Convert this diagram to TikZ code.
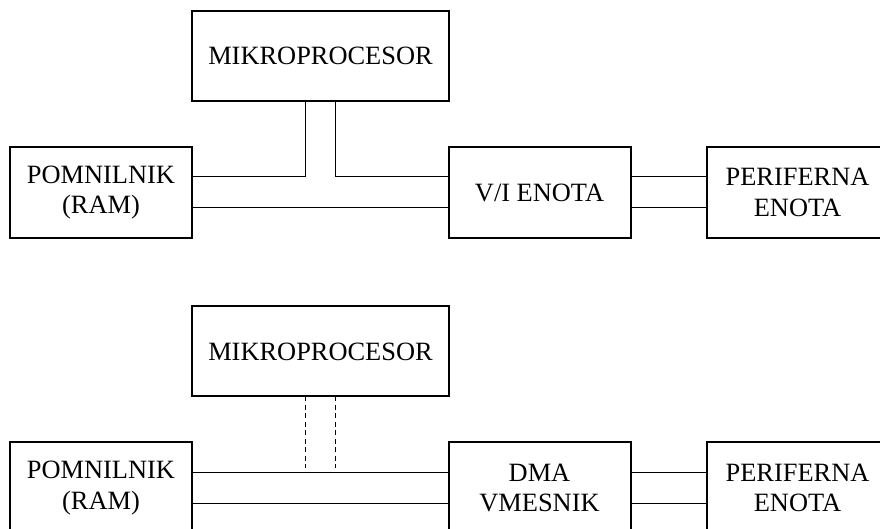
\documentclass[tikz,border=0pt]{standalone}
\usepackage{fontspec}
\setmainfont{Liberation Serif}
\usetikzlibrary{positioning}

\begin{document}
\begin{tikzpicture}[
    x=0.5pt, y=-0.5pt,
    every node/.style={font=\fontsize{13.2}{15.3}\selectfont, align=center},
    unit/.style={rectangle, minimum width=91pt, minimum height=45.5pt,
                 inner sep=0pt, outer sep=0pt, draw=black, line width=1pt},
    cpu/.style={unit, minimum width=128.5pt, minimum height=45pt},
    bus/.style={line width=0.5pt},
    ctrl/.style={bus, dash pattern=on 2.5pt off 1.75pt}
]
\useasboundingbox (0,0) rectangle (880,529);
\fill [white] (0,0) rectangle (880,529);
\clip (0,0) rectangle (880,529);

% programmirani vhod/izhod
\node (mp1) [cpu] at (320.5,56) {MIKROPROCESOR};
\node (ram1) [unit] at (101,192.5) {POMNILNIK\\(RAM)};
\node (vi1) [unit] at (539.5,192.5) {V/I ENOTA};
\node (per1) [unit, right=38pt of vi1] {PERIFERNA\\ENOTA};

\draw [bus] ([xshift=-7.5pt]mp1.south) |- ([yshift=7.75pt]ram1.east);
\draw [bus] ([xshift=7.5pt]mp1.south) |- ([yshift=7.75pt]vi1.west);
\draw [bus] ([yshift=-7.75pt]ram1.east) -- ([yshift=-7.75pt]vi1.west);
\draw [bus] ([yshift=7.75pt]vi1.east) -- ([yshift=7.75pt]per1.west);
\draw [bus] ([yshift=-7.75pt]vi1.east) -- ([yshift=-7.75pt]per1.west);

% neposredni dostop do pomnilnika
\node (mp2) [cpu] at (320.5,351.5) {MIKROPROCESOR};
\node (ram2) [unit] at (101,488) {POMNILNIK\\(RAM)};
\node (dma2) [unit] at (539.5,488) {DMA\\VMESNIK};
\node (per2) [unit, right=38pt of dma2] {PERIFERNA\\ENOTA};

\draw [ctrl] ([xshift=-7.5pt]mp2.south) -- ++(0,71.5);
\draw [ctrl] ([xshift=7.5pt]mp2.south) -- ++(0,71.5);
\draw [bus] ([yshift=7.75pt]ram2.east) -- ([yshift=7.75pt]dma2.west);
\draw [bus] ([yshift=-7.75pt]ram2.east) -- ([yshift=-7.75pt]dma2.west);
\draw [bus] ([yshift=7.75pt]dma2.east) -- ([yshift=7.75pt]per2.west);
\draw [bus] ([yshift=-7.75pt]dma2.east) -- ([yshift=-7.75pt]per2.west);

\end{tikzpicture}
\end{document}
